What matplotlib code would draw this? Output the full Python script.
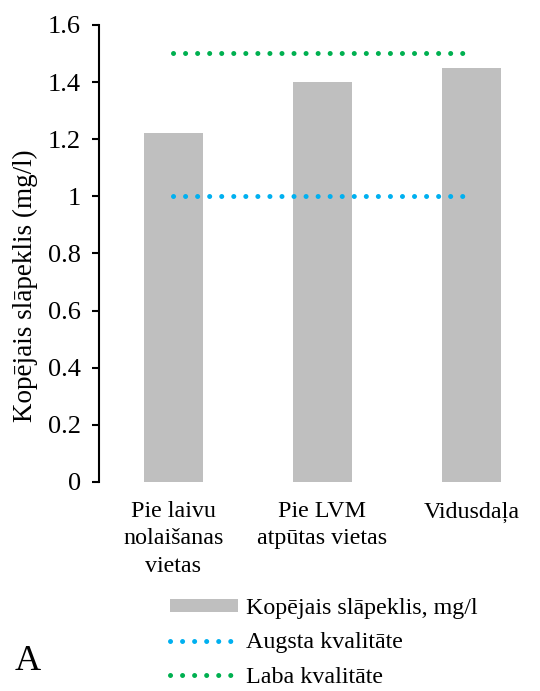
import matplotlib.pyplot as plt
from matplotlib.lines import Line2D
from matplotlib.patches import Patch

plt.rcParams['font.family'] = ['Liberation Serif', 'DejaVu Serif']

categories = ['Pie laivu\nnolaišanas\nvietas', 'Pie LVM\natpūtas vietas', 'Vidusdaļa']
nitrogen = [1.22, 1.40, 1.45]
high_quality = [1.0, 1.0, 1.0]
good_quality = [1.5, 1.5, 1.5]

bar_color = '#BFBFBF'
blue = '#00B0F0'
green = '#00B050'
dot_style = (0, (0.01, 2.4))

fig = plt.figure(figsize=(5.4, 6.91), dpi=100)
ax = fig.add_axes([0.183, 0.3025, 0.828, 0.6615])

x = range(len(categories))
ax.bar(x, nitrogen, width=0.4, color=bar_color)
ax.plot(x, high_quality, color=blue, lw=3.6, ls=dot_style, dash_capstyle='round')
ax.plot(x, good_quality, color=green, lw=3.6, ls=dot_style, dash_capstyle='round')

ax.set_xlim(-0.5, 2.5)
ax.set_ylim(0, 1.6)
ax.set_yticks([0, 0.2, 0.4, 0.6, 0.8, 1.0, 1.2, 1.4, 1.6])
ax.set_yticklabels(['0', '0.2', '0.4', '0.6', '0.8', '1', '1.2', '1.4', '1.6'])
ax.set_xticks(list(x))
ax.set_xticklabels(categories, fontsize=17.3, linespacing=1.38, va='top')
ax.tick_params(axis='x', length=0, pad=14)
ax.tick_params(axis='y', labelsize=19, direction='out', length=5, width=1.5, pad=8)
for s in ['top', 'right', 'bottom']:
    ax.spines[s].set_visible(False)
ax.spines['left'].set_linewidth(1.5)
ax.set_ylabel('Kopējais slāpeklis (mg/l)', fontsize=19.5)
ax.yaxis.set_label_coords(-0.135, 0.43)

handles = [
    Patch(facecolor=bar_color, edgecolor='none'),
    Line2D([0], [0], color=blue, lw=3.6, ls=dot_style, dash_capstyle='round'),
    Line2D([0], [0], color=green, lw=3.6, ls=dot_style, dash_capstyle='round'),
]
labels = ['Kopējais slāpeklis, mg/l', 'Augsta kvalitāte', 'Laba kvalitāte']
fig.legend(handles, labels, loc='upper left', bbox_to_anchor=(170 / 540, 1 - 598 / 691),
           bbox_transform=fig.transFigure, frameon=False, fontsize=17.3,
           handlelength=2.85, handleheight=0.5, handletextpad=0.3, labelspacing=0.56,
           borderaxespad=0, borderpad=0)

fig.text(0.028, 1 - 662 / 691, 'A', fontsize=26, va='center', ha='left')

fig.savefig('out.png', dpi=100)
